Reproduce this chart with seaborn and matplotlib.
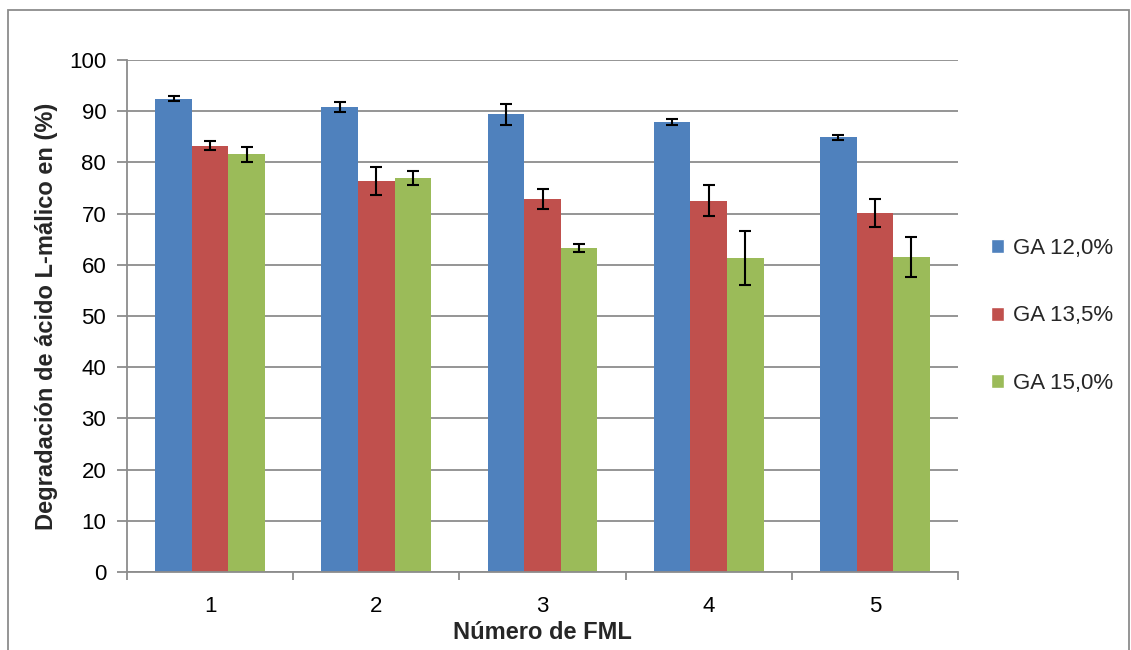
import matplotlib
matplotlib.use("Agg")
import matplotlib.pyplot as plt
import seaborn as sns
import pandas as pd
import numpy as np
from matplotlib.patches import Rectangle
from matplotlib.ticker import FixedLocator

categories = ["1", "2", "3", "4", "5"]
series_names = ["GA 12,0%", "GA 13,5%", "GA 15,0%"]
ga120 = [92.4, 90.8, 89.4, 87.9, 84.9]
ga135 = [83.3, 76.4, 72.9, 72.5, 70.1]
ga150 = [81.6, 77.0, 63.3, 61.3, 61.5]
err120 = [0.5, 0.9, 2.1, 0.5, 0.5]
err135 = [0.8, 2.7, 2.0, 3.0, 2.8]
err150 = [1.5, 1.4, 0.75, 5.3, 3.9]
colors = ["#4F81BD", "#C0504D", "#9BBB59"]

rows = []
for name, vals, errs in zip(series_names, [ga120, ga135, ga150], [err120, err135, err150]):
    for c, v, e in zip(categories, vals, errs):
        rows.append({"FML": c, "serie": name, "valor": v, "err": e})
df = pd.DataFrame(rows)

sns.set_theme(style="white")
plt.rcParams['font.family'] = ['Liberation Sans', 'DejaVu Sans']

fig = plt.figure(figsize=(11.31, 6.5), dpi=100)
ax = fig.add_axes([127/1131, 1-572/650, (958-127)/1131, (572-60)/650])

sns.barplot(data=df, x="FML", y="valor", hue="serie", order=categories,
            hue_order=series_names, palette=colors, width=0.66,
            errorbar=None, saturation=1, ax=ax, legend=True)

for container, name in zip(ax.containers, series_names):
    sub = df[df["serie"] == name].set_index("FML").loc[categories]
    xs = [p.get_x() + p.get_width() / 2 for p in container.patches]
    hs = [p.get_height() for p in container.patches]
    ax.errorbar(xs, hs, yerr=sub["err"].values, fmt="none", ecolor="black",
                elinewidth=1.5, capsize=4.5, capthick=1.5, zorder=5)
    for p in container.patches:
        p.set_edgecolor("none")

ax.set_ylim(0, 100)
ax.set_xlim(-0.5, 4.5)
ax.set_yticks(np.arange(0, 101, 10))
ax.yaxis.grid(True, color="#8C8C8C", linewidth=1.3)
ax.set_axisbelow(True)
for s in ["top", "right"]:
    ax.spines[s].set_visible(False)
for s in ["left", "bottom"]:
    ax.spines[s].set_color("#8C8C8C")
    ax.spines[s].set_linewidth(1.3)

ax.tick_params(axis="y", which="major", left=True, length=7, width=1.3,
               color="#8C8C8C", labelsize=16, pad=8, labelcolor="black")
ax.tick_params(axis="x", which="major", bottom=False, labelsize=16, pad=11,
               labelcolor="black")
ax.xaxis.set_minor_locator(FixedLocator(np.arange(-0.5, 5.0, 1.0)))
ax.tick_params(axis="x", which="minor", bottom=True, length=6, width=1.3,
               color="#8C8C8C")

ax.set_xlabel("Número de FML", fontsize=17, fontweight="bold", labelpad=3)
ax.set_ylabel("Degradación de ácido L-málico en (%)", fontsize=17,
              fontweight="bold", labelpad=8)

handles, labels = ax.get_legend_handles_labels()
ax.legend(handles, labels, loc="center left", bbox_to_anchor=(982/1131, 1-316/650),
          bbox_transform=fig.transFigure, frameon=False, fontsize=16,
          handlelength=0.6, handleheight=0.6, handletextpad=0.4,
          labelspacing=2.1, borderaxespad=0)

fig.patches.append(Rectangle((8/1131, -0.05), (1129-8)/1131, 1.05-10/650,
                             transform=fig.transFigure, fill=False,
                             edgecolor="#8C8C8C", linewidth=1.3))

fig.savefig("out.png", dpi=100)
